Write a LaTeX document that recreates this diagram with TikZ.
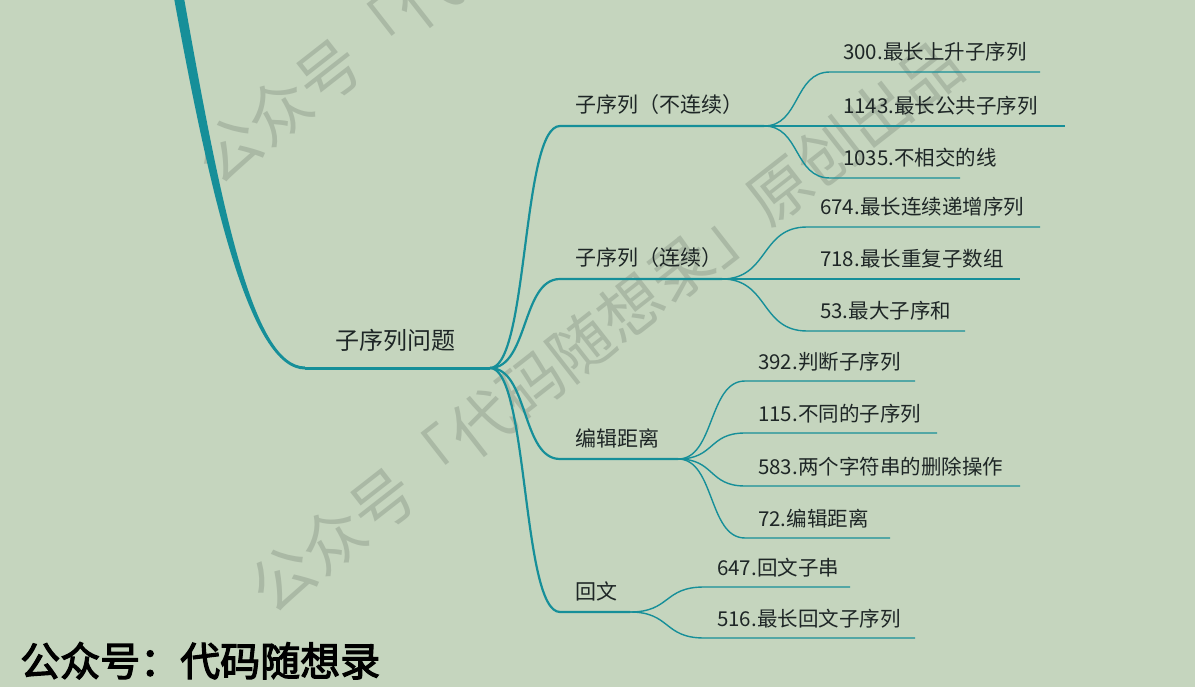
\documentclass[tikz,border=0pt]{standalone}
\usepackage{fontspec}
\usepackage{tikz}
\usetikzlibrary{calc}
\setmainfont{Noto Sans CJK SC}
\newfontfamily\brushfont[FakeBold=3]{Noto Sans CJK SC}
\definecolor{bgcol}{HTML}{C5D5BE}
\definecolor{branchcol}{HTML}{168F99}
\definecolor{markcol}{HTML}{AAB9A5}
\definecolor{txtcol}{HTML}{1E2626}
\tikzset{
	topic/.style={anchor=base west,inner sep=0pt,text=txtcol,font=\fontsize{21}{24}\selectfont},
	leaf/.style={topic,font=\fontsize{20.5}{24}\selectfont},
	watermark/.style={rotate=38,anchor=west,inner sep=0pt,text=markcol,font=\fontsize{63}{70}\selectfont},
	branch/.style={draw=branchcol,line width=2.2pt,to path={.. controls ($(\tikztostart)!0.55!(\tikztotarget |- \tikztostart)$) and ($(\tikztotarget)!0.55!(\tikztostart |- \tikztotarget)$) .. (\tikztotarget)}},
	twig/.style={branch,line width=1.4pt}
}
\begin{document}
\begin{tikzpicture}[x=1pt,y=-1pt]
		\fill[bgcol] (0,0) rectangle (1195,687); %background
		\useasboundingbox (0,0) rectangle (1195,687);
		\node[watermark] (wm1) at (204,169) {公众号「代码随想录」原创出品}; %watermarks
		\node[watermark] (wm2) at (258,598) {公众号「代码随想录」原创出品};
		\fill[branchcol] (174,-2) .. controls (211,200) and (250,369.5) .. (305,369.5) -- (305,366.5) .. controls (252,366.5) and (220,200) .. (184,-2) -- cycle; %main curve
		\coordinate (r0) at (305,368); %root
		\coordinate (r1) at (490,368);
		\draw[branchcol,line width=3pt] (r0) -- (r1);
		\node[topic,font=\fontsize{24}{27}\selectfont] (root) at (335,349) {子序列问题};
		\coordinate (a0) at (560,126); \coordinate (a1) at (764,126); %first level
		\coordinate (b0) at (560,279); \coordinate (b1) at (722,279);
		\coordinate (c0) at (560,459); \coordinate (c1) at (678,459);
		\coordinate (d0) at (560,612); \coordinate (d1) at (630,612);
		\foreach \p in {a,b,c,d}
			\draw[branch] (r1) to (\p0) -- (\p1);
		\node[topic] (ta) at (575,113) {子序列（不连续）};
		\node[topic] (tb) at (575,266) {子序列（连续）};
		\node[topic] (tc) at (575,446) {编辑距离};
		\node[topic] (td) at (575,599) {回文};
		\coordinate (a10) at (830,72); \coordinate (a11) at (1040,72); %leaves
		\coordinate (a20) at (830,126); \coordinate (a21) at (1065,126);
		\coordinate (a30) at (830,178); \coordinate (a31) at (960,178);
		\coordinate (b10) at (807,227); \coordinate (b11) at (1040,227);
		\coordinate (b20) at (807,279); \coordinate (b21) at (1020,279);
		\coordinate (b30) at (807,331); \coordinate (b31) at (965,331);
		\coordinate (c10) at (745,381); \coordinate (c11) at (915,381);
		\coordinate (c20) at (745,433); \coordinate (c21) at (937,433);
		\coordinate (c30) at (745,486); \coordinate (c31) at (1020,486);
		\coordinate (c40) at (745,538); \coordinate (c41) at (890,538);
		\coordinate (d10) at (704,587); \coordinate (d11) at (850,587);
		\coordinate (d20) at (704,638); \coordinate (d21) at (915,638);
		\foreach \p/\q in {a/1,a/2,a/3,b/1,b/2,b/3,c/1,c/2,c/3,c/4,d/1,d/2}
			\draw[twig] (\p1) to (\p\q0) -- (\p\q1);
		\node[leaf] (ta1) at (843,60) {300.最长上升子序列};
		\node[leaf] (ta2) at (843,114) {1143.最长公共子序列};
		\node[leaf] (ta3) at (843,166) {1035.不相交的线};
		\node[leaf] (tb1) at (820,215) {674.最长连续递增序列};
		\node[leaf] (tb2) at (820,267) {718.最长重复子数组};
		\node[leaf] (tb3) at (820,319) {53.最大子序和};
		\node[leaf] (tc1) at (758,369) {392.判断子序列};
		\node[leaf] (tc2) at (758,421) {115.不同的子序列};
		\node[leaf] (tc3) at (758,474) {583.两个字符串的删除操作};
		\node[leaf] (tc4) at (758,526) {72.编辑距离};
		\node[leaf] (td1) at (717,575) {647.回文子串};
		\node[leaf] (td2) at (717,626) {516.最长回文子序列};
		\node[anchor=base west,inner sep=0pt,font=\brushfont\fontsize{40}{44}\selectfont] (sign) at (20,676) {公众号：代码随想录}; %signature
	\end{tikzpicture}
\end{document}
